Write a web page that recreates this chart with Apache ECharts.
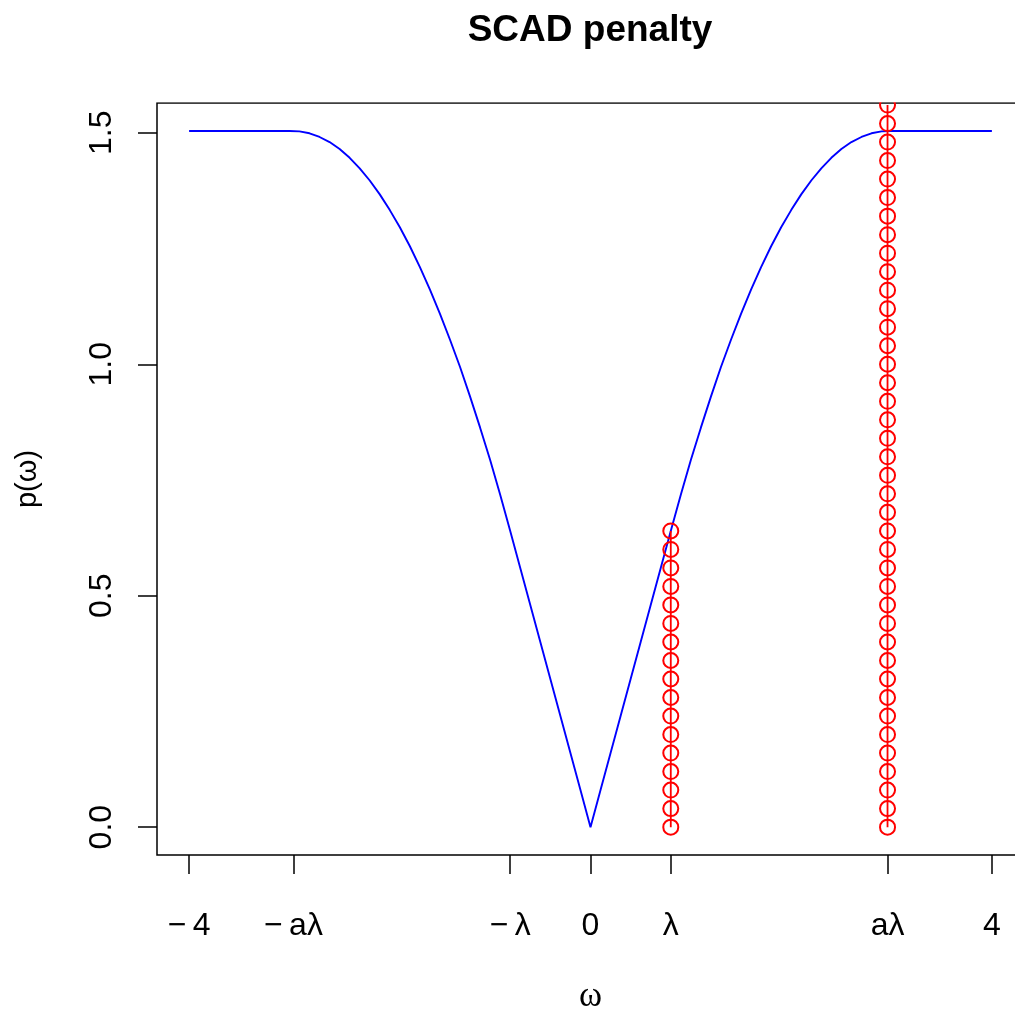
<!DOCTYPE html>
<html>
<head>
<meta charset="utf-8">
<script src="https://cdn.jsdelivr.net/npm/echarts@6/dist/echarts.min.js"></script>
<style>html,body{margin:0;padding:0;background:#fff}#c{width:1015px;height:1013px}</style>
</head>
<body>
<div id="c"></div>
<script>
// Blue SCAD curve
const curveX = [-4.0,-3.9,-3.8,-3.7,-3.6,-3.5,-3.4,-3.3,-3.2,-3.1,-3.0,-2.9,-2.8,-2.7,-2.6,-2.5,-2.4,-2.3,-2.2,-2.1,-2.0,-1.9,-1.8,-1.7,-1.6,-1.5,-1.4,-1.3,-1.2,-1.1,-1.0,-0.9,-0.8,-0.7,-0.6,-0.5,-0.4,-0.3,-0.2,-0.1,0.0,0.1,0.2,0.3,0.4,0.5,0.6,0.7,0.8,0.9,1.0,1.1,1.2,1.3,1.4,1.5,1.6,1.7,1.8,1.9,2.0,2.1,2.2,2.3,2.4,2.5,2.6,2.7,2.8,2.9,3.0,3.1,3.2,3.3,3.4,3.5,3.6,3.7,3.8,3.9,4.0];
const curveY = [1.504,1.504,1.504,1.504,1.504,1.504,1.504,1.504,1.504,1.504,1.504,1.503,1.499,1.491,1.480,1.465,1.446,1.423,1.397,1.367,1.333,1.296,1.255,1.210,1.161,1.109,1.053,0.994,0.930,0.863,0.793,0.718,0.64,0.56,0.48,0.40,0.32,0.24,0.16,0.08,0.0,0.08,0.16,0.24,0.32,0.40,0.48,0.56,0.64,0.718,0.793,0.863,0.930,0.994,1.053,1.109,1.161,1.210,1.255,1.296,1.333,1.367,1.397,1.423,1.446,1.465,1.480,1.491,1.499,1.503,1.504,1.504,1.504,1.504,1.504,1.504,1.504,1.504,1.504,1.504,1.504];

// Red circles at lambda and a*lambda
const lambdaX = 0.8;
const lambdaY = [0,0.04,0.08,0.12,0.16,0.20,0.24,0.28,0.32,0.36,0.40,0.44,0.48,0.52,0.56,0.60,0.64];
const aLambdaX = 2.96;
const aLambdaY = [0,0.04,0.08,0.12,0.16,0.20,0.24,0.28,0.32,0.36,0.40,0.44,0.48,0.52,0.56,0.60,0.64,0.68,0.72,0.76,0.80,0.84,0.88,0.92,0.96,1.00,1.04,1.08,1.12,1.16,1.20,1.24,1.28,1.32,1.36,1.40,1.44,1.48,1.52,1.56];

// Axis ticks
const xTickVals = [-4, -2.96, -0.8, 0, 0.8, 2.96, 4];
const xTickLabels = ['\u2212\u20094', '\u2212\u2009a\u03bb', '\u2212\u2009\u03bb', '0', '\u03bb', 'a\u03bb', '4'];
const yTickVals = [0, 0.5, 1, 1.5];
const yTickLabels = ['0.0', '0.5', '1.0', '1.5'];

const chart = echarts.init(document.getElementById('c'), null, {renderer: 'canvas'});
const FONT = 'Liberation Sans';
const redSeries = (xv, ys) => ({
  type: 'line', data: ys.map(y => [xv, y]),
  symbol: 'circle', symbolSize: 15, showAllSymbol: true, clip: true, z: 3,
  lineStyle: {color: '#ff0000', width: 1.8},
  itemStyle: {color: 'rgba(0,0,0,0)', borderColor: '#ff0000', borderWidth: 2}
});
const option = {
  animation: false,
  backgroundColor: '#fff',
  title: {
    text: 'SCAD penalty', left: 590, textAlign: 'center', top: 12, padding: 0, z: 10,
    textStyle: {fontFamily: FONT, fontWeight: 'bold', fontSize: 37, color: '#000'}
  },
  grid: {left: 157, top: 103, width: 867, height: 752, show: true, borderColor: '#000', borderWidth: 1.5,
         backgroundColor: 'transparent', containLabel: false, outerBoundsMode: 'none'},
  xAxis: {
    type: 'value', min: -4.32, max: 4.32,
    name: '\u03c9', nameLocation: 'middle', nameGap: 124,
    nameTextStyle: {fontFamily: 'Liberation Serif', fontSize: 35, color: '#000'},
    axisLine: {show: false, onZero: false}, splitLine: {show: false},
    axisTick: {show: true, customValues: xTickVals, length: 19, inside: false, lineStyle: {color: '#000', width: 1.5}},
    axisLabel: {
      customValues: xTickVals, margin: 55, fontFamily: FONT, fontSize: 32, color: '#000',
      formatter: v => { const i = xTickVals.findIndex(t => Math.abs(t - v) < 1e-6); return i >= 0 ? xTickLabels[i] : ''; }
    }
  },
  yAxis: {
    type: 'value', min: -0.0602, max: 1.5644,
    name: 'p(\u03c9)', nameLocation: 'middle', nameGap: 115, nameRotate: 90,
    nameTextStyle: {fontFamily: FONT, fontSize: 29, color: '#000'},
    axisLine: {show: false, onZero: false}, splitLine: {show: false},
    axisTick: {show: true, customValues: yTickVals, length: 19, inside: false, lineStyle: {color: '#000', width: 1.5}},
    axisLabel: {
      customValues: yTickVals, margin: 39, rotate: 90, fontFamily: FONT, fontSize: 32, color: '#000',
      formatter: v => { const i = yTickVals.findIndex(t => Math.abs(t - v) < 1e-6); return i >= 0 ? yTickLabels[i] : ''; }
    }
  },
  series: [
    {
      type: 'line', data: curveX.map((x, i) => [x, curveY[i]]),
      showSymbol: false, symbol: 'none', clip: true, z: 2,
      lineStyle: {color: '#0000ff', width: 1.9}
    },
    redSeries(lambdaX, lambdaY),
    redSeries(aLambdaX, aLambdaY)
  ]
};
chart.setOption(option);
// mask anything drawn above the plot box (R clips points to the plot region)
const topPx = chart.convertToPixel({yAxisIndex: 0}, 1.5644);
chart.setOption({
  graphic: [{type: 'rect', z: 5, silent: true, shape: {x: 0, y: 0, width: 1015, height: topPx - 0.8}, style: {fill: '#fff'}}]
});
</script>
</body>
</html>
